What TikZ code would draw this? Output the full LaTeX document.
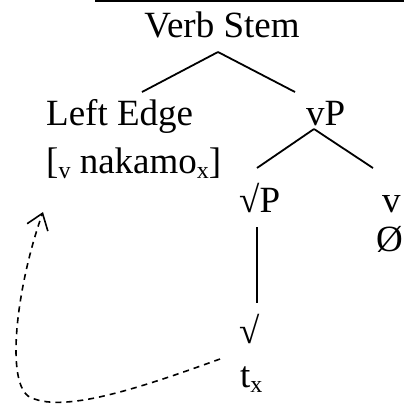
\documentclass[tikz,border=0pt]{standalone}
\usepackage{fontspec}
\setmainfont{Liberation Serif}
\usetikzlibrary{arrows.meta}
\tikzset{
  lbl/.style={inner sep=0pt, anchor=base west, font=\fontsize{37}{37}\selectfont},
  branch/.style={line width=1.8pt},
  movearrow/.style={line width=1.6pt, dash pattern=on 6pt off 5pt, -{Straight Barb[length=15pt,width=22pt,line width=1.6pt]}}
}
\newcommand{\lowsub}[1]{\raisebox{-5pt}{\fontsize{24}{24}\selectfont #1}}
\begin{document}
\begin{tikzpicture}[x=1pt,y=-1pt]
\useasboundingbox (0,0) rectangle (404,408);
\clip (0,0) rectangle (404,408);
% top rule
\coordinate (r1) at (95,1);
\coordinate (r2) at (404,1);
\draw[line width=2.2pt] (r1) -- (r2);
% labels
\node[lbl, anchor=base] (vs) at (222,37) {Verb Stem};
\node[lbl] (le) at (46,125) {Left Edge};
\node[lbl] (vp) at (306,125) {vP};
\node[lbl] (nak) at (46,173) {[\lowsub{v} nakamo\lowsub{x}]};
\node[lbl] (rp) at (239,212) {√P};
\node[lbl] (v) at (382,212) {v};
\node[lbl] (null) at (376,251) {Ø};
\node[lbl] (root) at (239,343) {√};
\node[lbl] (tx) at (240,387) {t\lowsub{x}};
% branch ends
\coordinate (vsB) at (218,52);
\coordinate (leT) at (142,92);
\coordinate (vpT) at (295,92);
\coordinate (vpB) at (314,129);
\coordinate (rpT) at (257,168);
\coordinate (vT) at (373,168);
\coordinate (rpB) at (257,227);
\coordinate (rootT) at (257,303);
\draw[branch] (vsB) -- (leT);
\draw[branch] (vsB) -- (vpT);
\draw[branch] (vpB) -- (rpT);
\draw[branch] (vpB) -- (vT);
\draw[branch] (rpB) -- (rootT);
% movement arrow
\coordinate (mvS) at (220,359);
\coordinate (mvM) at (28,396);
\coordinate (mvE) at (43,212);
\draw[movearrow] (mvS) .. controls (140,388) and (60,415) .. (mvM) .. controls (5,378) and (18,282) .. (mvE);
\end{tikzpicture}
\end{document}
